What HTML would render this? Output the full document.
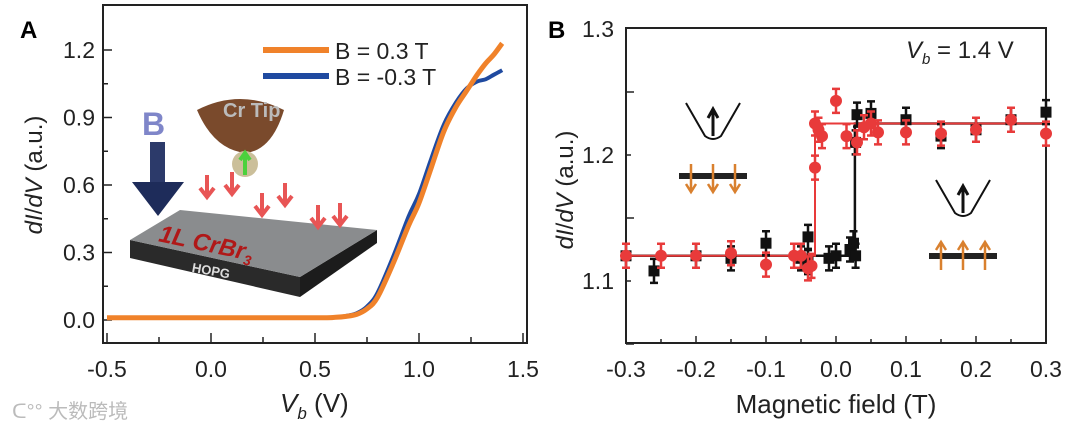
<!DOCTYPE html>
<html><head><meta charset="utf-8"><style>
html,body{margin:0;padding:0;background:#fff}
svg{display:block}
text{font-family:"Liberation Sans","Noto Sans CJK SC",sans-serif}
</style></head><body>
<svg id="fig" width="1080" height="429" viewBox="0 0 1080 429" xmlns="http://www.w3.org/2000/svg">
<text x="20" y="38" font-size="24" font-weight="bold">A</text>
<text x="548" y="38" font-size="24" font-weight="bold">B</text>
<g id="ga"></g>
<g id="gb"></g>
<text x="12" y="418" font-size="20" fill="#bbb">ᑕ°° 大数跨境</text>
</svg>
<script>
// Panel A data
const aV = [-0.5,0,0.5,0.6,0.65,0.7,0.75,0.8,0.875,0.95,1.0,1.06,1.12,1.18,1.23,1.28,1.32,1.36,1.4];
const aOrange = [0.01,0.01,0.01,0.012,0.016,0.025,0.05,0.1,0.25,0.42,0.52,0.68,0.84,0.95,1.02,1.09,1.14,1.18,1.23];
const aBlue = [0.01,0.01,0.01,0.013,0.018,0.03,0.06,0.12,0.28,0.46,0.56,0.72,0.87,0.97,1.03,1.06,1.07,1.09,1.11];
const aXTicks = ["-0.5","0.0","0.5","1.0","1.5"];
const aYTicks = ["0.0","0.3","0.6","0.9","1.2"];
// Panel B data
const bBlackX = [-0.3,-0.26,-0.2,-0.15,-0.1,-0.05,-0.04,-0.04,-0.01,0.0,0.02,0.025,0.028,0.028,0.03,0.05,0.1,0.15,0.2,0.25,0.3];
const bBlackY = [1.12,1.108,1.12,1.118,1.13,1.118,1.115,1.135,1.118,1.12,1.125,1.13,1.12,1.21,1.232,1.233,1.228,1.215,1.22,1.228,1.234];
const bRedX = [-0.3,-0.25,-0.2,-0.15,-0.1,-0.06,-0.05,-0.04,-0.035,-0.03,-0.03,-0.025,-0.02,0.0,0.015,0.03,0.04,0.05,0.06,0.1,0.15,0.2,0.25,0.3];
const bRedY = [1.12,1.12,1.12,1.122,1.113,1.12,1.12,1.11,1.112,1.19,1.225,1.22,1.215,1.243,1.215,1.21,1.222,1.225,1.218,1.218,1.217,1.22,1.228,1.217];
const bSwitch = [-0.03, 0.027];
const bLevels = [1.12, 1.225];
const bXTicks = ["-0.3","-0.2","-0.1","0.0","0.1","0.2","0.3"];
const bYTicks = ["1.1","1.2","1.3"];

const NS="http://www.w3.org/2000/svg";
function mk(tag,attrs,parent,txt){const e=document.createElementNS(NS,tag);for(const k in attrs)e.setAttribute(k,attrs[k]);if(txt!==undefined)e.textContent=txt;parent.appendChild(e);return e;}

// ---- Panel A ----
const ga=document.getElementById('ga');
const ax=v=>107+(v+0.5)*208, ay=v=>320-v*225;
let r=mk('rect',{x:103,y:5,width:424,height:338,fill:'none',stroke:'#222','stroke-width':2},ga);


for(let i=0;i<9;i++){const v=-0.5+i*0.25;mk('line',{x1:ax(v),x2:ax(v),y1:343,y2:i%2?337:333,stroke:'#222','stroke-width':1.5},ga);}
aXTicks.forEach(t=>{const e=mk('text',{x:ax(+t),y:377,'font-size':23,'text-anchor':'middle',fill:'#222'},ga,t);

});
for(let i=0;i<9;i++){const v=i*0.15;mk('line',{x1:103,x2:i%2?108:112,y1:ay(v),y2:ay(v),stroke:'#222','stroke-width':1.5},ga);}
aYTicks.forEach(t=>{const e=mk('text',{x:95,y:ay(+t)+8,'font-size':23,'text-anchor':'end',fill:'#222'},ga,t);

});
let yl=mk('text',{transform:'translate(42,175) rotate(-90)','font-size':24,'text-anchor':'middle',fill:'#222'},ga);
yl.innerHTML='<tspan font-style="italic">dI</tspan>/<tspan font-style="italic">dV</tspan> (a.u.)';


let xl=mk('text',{x:280,y:412,'font-size':26,fill:'#222'},ga);
xl.innerHTML='<tspan font-style="italic">V</tspan><tspan font-style="italic" font-size="17" dy="7">b</tspan><tspan dy="-7"> (V)</tspan>';


// inset illustration
const ins=mk('g',{},ga);


ins.innerHTML=`
<polygon points="130,240 300,277 300,297 130,258" fill="#2a2a2a"/>
<polygon points="300,277 377,230 377,243 300,297" fill="#1c1c1c"/>
<polygon points="130,240 180,210 377,230 300,277" fill="#8a8c8e"/>
<text x="158" y="250" font-size="24" font-style="italic" font-weight="bold" fill="#b01818" transform="rotate(12 200 245)">1L CrBr<tspan font-size="14" dy="5">3</tspan></text>
<text x="192" y="275" font-size="13" font-weight="bold" fill="#ddd" transform="rotate(10 210 270)">HOPG</text>
<path d="M197,110 Q240,88 284,110 Q272,150 246,153 Q214,150 197,110 Z" fill="#7a4a2c"/>
<text x="223" y="117" font-size="20" font-weight="bold" fill="#bbb">Cr Tip</text>
<circle cx="245" cy="164" r="13" fill="#cbbf9a"/>
<path d="M245,175 L245,155 M240,160 L245,153 L250,160" stroke="#4bd13d" stroke-width="4" fill="none"/>
<text x="142" y="135" font-size="32" font-weight="bold" fill="#7f86c9">B</text>
<rect x="150" y="142" width="15" height="42" fill="#2c3a6a"/>
<polygon points="132,182 184,182 158,216" fill="#1e2c5a"/>
`;
[[207,175],[232,172],[262,193],[285,183],[318,205],[340,203]].forEach(p=>{
 mk('path',{d:`M${p[0]},${p[1]} v20 M${p[0]-7},${p[1]+13} L${p[0]},${p[1]+22} L${p[0]+7},${p[1]+13}`,stroke:'#e85555','stroke-width':4,fill:'none'},ins);
});
function pathA(vals){
 const P=aV.map((v,i)=>[ax(v),ay(vals[i])]);
 let d='M'+P[0][0].toFixed(1)+','+P[0][1].toFixed(1);
 for(let i=0;i<P.length-1;i++){const p0=P[Math.max(0,i-1)],p1=P[i],p2=P[i+1],p3=P[Math.min(P.length-1,i+2)];
  const c1=[p1[0]+(p2[0]-p0[0])/6,p1[1]+(p2[1]-p0[1])/6],c2=[p2[0]-(p3[0]-p1[0])/6,p2[1]-(p3[1]-p1[1])/6];
  d+=` C${c1[0].toFixed(1)},${c1[1].toFixed(1)} ${c2[0].toFixed(1)},${c2[1].toFixed(1)} ${p2[0].toFixed(1)},${p2[1].toFixed(1)}`;}
 return d;}
let pb=mk('path',{d:pathA(aBlue),stroke:'#1f4aa0','stroke-width':4,fill:'none','stroke-linejoin':'round'},ga);


let po=mk('path',{d:pathA(aOrange),stroke:'#f0822a','stroke-width':5,fill:'none','stroke-linejoin':'round'},ga);


[['#f0822a','B = 0.3 T',50],['#1f4aa0','B = -0.3 T',76]].forEach(l=>{
 const g=mk('g',{},ga);
 
 
 mk('line',{x1:263,x2:329,y1:l[2],y2:l[2],stroke:l[0],'stroke-width':6},g);
 mk('text',{x:335,y:l[2]+9,'font-size':23,fill:'#222'},g,l[1]);
});

// ---- Panel B ----
const gb=document.getElementById('gb');
const bx=v=>836+v*700, by=v=>155-(v-1.2)*1260;
r=mk('rect',{x:626,y:28,width:420,height:315,fill:'none',stroke:'#222','stroke-width':2},gb);


for(let i=1;i<12;i++){const v=-0.3+i*0.05;mk('line',{x1:bx(v),x2:bx(v),y1:343,y2:i%2?339:336,stroke:'#222','stroke-width':1.5},gb);}
bXTicks.forEach(t=>{const e=mk('text',{x:bx(+t),y:377,'font-size':23,'text-anchor':'middle',fill:'#222'},gb,t);

});
for(let i=0;i<5;i++){const v=1.1+i*0.05-0.05;mk('line',{x1:626,x2:i%2?631:634,y1:by(v),y2:by(v),stroke:'#222','stroke-width':1.5},gb);}
bYTicks.forEach(t=>{const e=mk('text',{x:614,y:by(+t)+8,'font-size':23,'text-anchor':'end',fill:'#222'},gb,t);

});
yl=mk('text',{transform:'translate(573,190) rotate(-90)','font-size':24,'text-anchor':'middle',fill:'#222'},gb);
yl.innerHTML='<tspan font-style="italic">dI</tspan>/<tspan font-style="italic">dV</tspan> (a.u.)';


xl=mk('text',{x:836,y:413,'font-size':26,'text-anchor':'middle',fill:'#222'},gb,'Magnetic field (T)');


let vb=mk('text',{x:906,y:58,'font-size':24,fill:'#222'},gb);
vb.innerHTML='<tspan font-style="italic">V</tspan><tspan font-style="italic" font-size="15" dy="6">b</tspan><tspan dy="-6"> = 1.4 V</tspan>';


let sl=mk('path',{d:`M${bx(-0.3)},${by(bLevels[0])} H${bx(bSwitch[1])} V${by(bLevels[1])} H${bx(0.3)}`,stroke:'#111','stroke-width':2.5,fill:'none'},gb);


sl=mk('path',{d:`M${bx(-0.3)},${by(bLevels[0])} H${bx(bSwitch[0])} V${by(bLevels[1])} H${bx(0.3)}`,stroke:'#e83a3a','stroke-width':2,fill:'none'},gb);


bBlackX.forEach((x,i)=>{const g=mk('g',{},gb);
 
 
 const X=bx(x),Y=by(bBlackY[i]);
 mk('path',{d:`M${X},${Y-12} V${Y+12} M${X-4},${Y-12} h8 M${X-4},${Y+12} h8`,stroke:'#111','stroke-width':2.5},g);
 mk('rect',{x:X-5.5,y:Y-5.5,width:11,height:11,fill:'#111'},g);});
bRedX.forEach((x,i)=>{const g=mk('g',{},gb);
 
 
 const X=bx(x),Y=by(bRedY[i]);
 mk('path',{d:`M${X},${Y-12} V${Y+12} M${X-4},${Y-12} h8 M${X-4},${Y+12} h8`,stroke:'#e83a3a','stroke-width':2.5},g);
 mk('circle',{cx:X,cy:Y,r:6,fill:'#e83a3a'},g);});
function icon(cx,cy,bary,up){const g=mk('g',{},gb);
 
 
 mk('path',{d:`M${cx-27},${cy-25} L${cx-8},${cy+8} Q${cx},${cy+14} ${cx+8},${cy+8} L${cx+27},${cy-25}`,stroke:'#111','stroke-width':2,fill:'none'},g);
 mk('path',{d:`M${cx},${cy+8} V${cy-18} M${cx-5},${cy-10} L${cx},${cy-19} L${cx+5},${cy-10}`,stroke:'#111','stroke-width':3,fill:'none'},g);
 mk('rect',{x:cx-34,y:bary-3,width:68,height:6,fill:'#222'},g);
 [-22,0,22].forEach(d=>{const x=cx+d;
  if(up) mk('path',{d:`M${x},${bary+14} V${bary-12} M${x-5},${bary-6} L${x},${bary-14} L${x+5},${bary-6}`,stroke:'#d9802e','stroke-width':2.5,fill:'none'},g);
  else mk('path',{d:`M${x},${bary-12} V${bary+14} M${x-5},${bary+8} L${x},${bary+16} L${x+5},${bary+8}`,stroke:'#d9802e','stroke-width':2.5,fill:'none'},g);});}
icon(713,128,176,false);
icon(963,205,256,true);
</script>
</body></html>
